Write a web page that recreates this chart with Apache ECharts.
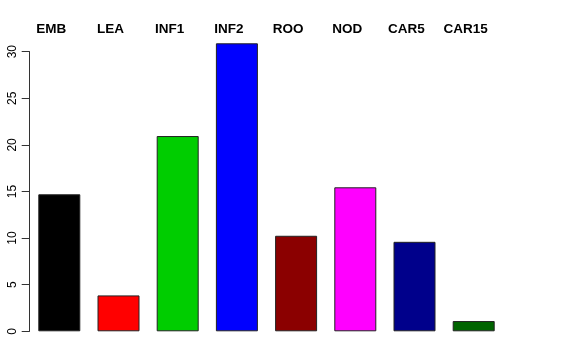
<!DOCTYPE html>
<html>
<head>
<meta charset="utf-8">
<script src="https://cdn.jsdelivr.net/npm/echarts@6/dist/echarts.min.js"></script>
<style>
html,body{margin:0;padding:0;background:#fff;}
#chart{width:576px;height:360px;}
</style>
</head>
<body>
<div id="chart"></div>
<script>
var categories = ['EMB', 'LEA', 'INF1', 'INF2', 'ROO', 'NOD', 'CAR5', 'CAR15'];
var values = [14.7, 3.85, 20.95, 30.9, 10.25, 15.45, 9.6, 1.1];
var colors = ['#000000', '#ff0000', '#00cd00', '#0000ff', '#8b0000', '#ff00ff', '#00008b', '#006400'];
var yTicks = [0, 5, 10, 15, 20, 25, 30];

var chart = echarts.init(document.getElementById('chart'), null, {renderer: 'canvas'});
chart.setOption({
  animation: false,
  backgroundColor: '#ffffff',
  grid: {left: 29.7, right: 72.7, top: 51.7, bottom: 28.7, containLabel: false},
  xAxis: {
    type: 'category',
    data: categories,
    position: 'top',
    axisLine: {show: false},
    axisTick: {show: false},
    splitLine: {show: false},
    axisLabel: {
      color: '#000',
      fontFamily: 'Liberation Sans, Arial, sans-serif',
      fontWeight: 'bold',
      fontSize: 13.5,
      margin: 15,
      padding: [0, 16, 0, 0],
      interval: 0
    }
  },
  yAxis: {
    type: 'value',
    min: yTicks[0],
    max: yTicks[yTicks.length - 1],
    interval: 5,
    axisLine: {show: true, lineStyle: {color: '#333', width: 1}},
    axisTick: {show: true, length: 8, lineStyle: {color: '#333'}},
    splitLine: {show: false},
    axisLabel: {
      color: '#000',
      rotate: 90,
      fontFamily: 'Liberation Sans, Arial, sans-serif',
      fontSize: 12,
      margin: 11
    }
  },
  series: [{
    type: 'bar',
    clip: false,
    barWidth: 42,
    data: values.map(function (v, i) {
      return {value: v, itemStyle: {color: colors[i], borderColor: '#222', borderWidth: 1}};
    })
  }]
});
</script>
</body>
</html>
